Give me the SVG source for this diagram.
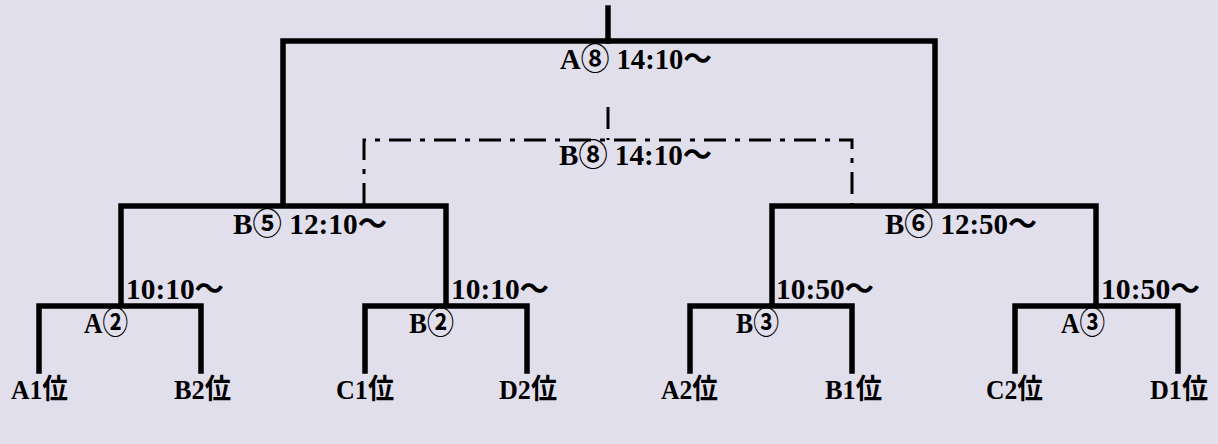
<svg xmlns="http://www.w3.org/2000/svg" width="1218" height="444" viewBox="0 0 1218 444">
<style>
.bg{fill:#e2dfed}
.ln{fill:none;stroke:#000;stroke-width:5.5;stroke-linejoin:miter;stroke-linecap:square}
.dl{fill:none;stroke:#000;stroke-width:3;stroke-dasharray:22 9 5 9}
.t{font-family:"Liberation Serif","Noto Sans CJK JP",serif;font-weight:bold;font-size:30px;fill:#000}
.s{font-size:28px}
</style>
<rect class="bg" x="0" y="0" width="1218" height="444"/>
<g id="connectors">
  <path class="ln" d="M608,8 V41"/>
  <path class="ln" d="M283,205 V41 H935 V205"/>
  <path class="dl" d="M608,107 V140"/>
  <path class="dl" d="M364,205 V140 H852 V205"/>
  <path class="ln" d="M121,305 V206 H446 V305"/>
  <path class="ln" d="M772,305 V206 H1096 V305"/>
  <path class="ln" d="M39,371 V306 H201 V371"/>
  <path class="ln" d="M365,371 V306 H527 V371"/>
  <path class="ln" d="M690,371 V306 H852 V371"/>
  <path class="ln" d="M1015,371 V306 H1178 V371"/>
</g>
<g id="final-A8"><text class="t" x="560" y="68.5" textLength="152" lengthAdjust="spacingAndGlyphs">A⑧ 14:10～</text></g>
<g id="final-B8"><text class="t" x="559" y="165" textLength="153" lengthAdjust="spacingAndGlyphs">B⑧ 14:10～</text></g>
<g id="semi-B5"><text class="t" x="233" y="234" textLength="154" lengthAdjust="spacingAndGlyphs">B⑤ 12:10～</text></g>
<g id="semi-B6"><text class="t" x="885" y="234" textLength="152" lengthAdjust="spacingAndGlyphs">B⑥ 12:50～</text></g>
<g id="qf-A2">
  <text class="t" x="126" y="299" textLength="98" lengthAdjust="spacingAndGlyphs">10:10～</text>
  <text class="t" x="84" y="333" textLength="44" lengthAdjust="spacingAndGlyphs">A②</text>
</g>
<g id="qf-B2">
  <text class="t" x="451" y="299" textLength="98" lengthAdjust="spacingAndGlyphs">10:10～</text>
  <text class="t" x="409" y="333" textLength="45" lengthAdjust="spacingAndGlyphs">B②</text>
</g>
<g id="qf-B3">
  <text class="t" x="776" y="299" textLength="98" lengthAdjust="spacingAndGlyphs">10:50～</text>
  <text class="t" x="736" y="333" textLength="43" lengthAdjust="spacingAndGlyphs">B③</text>
</g>
<g id="qf-A3">
  <text class="t" x="1101" y="299" textLength="99" lengthAdjust="spacingAndGlyphs">10:50～</text>
  <text class="t" x="1061" y="333" textLength="44" lengthAdjust="spacingAndGlyphs">A③</text>
</g>
<g id="team-A1"><text class="t s" x="11" y="398.5" textLength="57" lengthAdjust="spacingAndGlyphs">A1位</text></g>
<g id="team-B2"><text class="t s" x="174" y="398.5" textLength="57" lengthAdjust="spacingAndGlyphs">B2位</text></g>
<g id="team-C1"><text class="t s" x="336" y="398.5" textLength="58" lengthAdjust="spacingAndGlyphs">C1位</text></g>
<g id="team-D2"><text class="t s" x="499" y="398.5" textLength="58" lengthAdjust="spacingAndGlyphs">D2位</text></g>
<g id="team-A2"><text class="t s" x="661" y="398.5" textLength="57" lengthAdjust="spacingAndGlyphs">A2位</text></g>
<g id="team-B1"><text class="t s" x="825" y="398.5" textLength="57" lengthAdjust="spacingAndGlyphs">B1位</text></g>
<g id="team-C2"><text class="t s" x="986" y="398.5" textLength="57" lengthAdjust="spacingAndGlyphs">C2位</text></g>
<g id="team-D1"><text class="t s" x="1150" y="398.5" textLength="58" lengthAdjust="spacingAndGlyphs">D1位</text></g>
</svg>
